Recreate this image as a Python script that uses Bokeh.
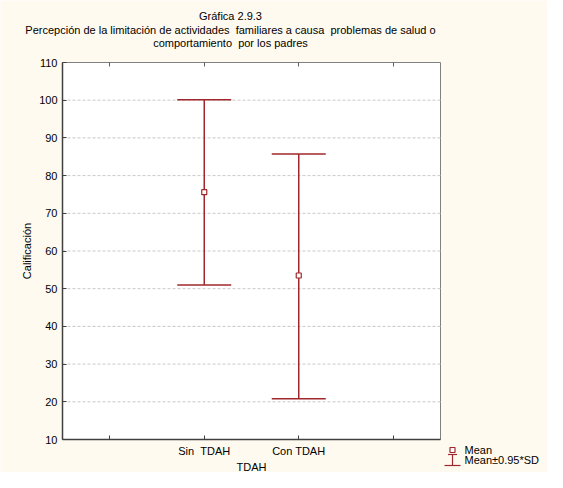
from bokeh.plotting import figure
from bokeh.models import (Range1d, FixedTicker, Whisker, TeeHead, ColumnDataSource, Label,
                          LinearAxis)
from bokeh.embed import file_html
from bokeh.resources import INLINE

# ---- data ----
categories = ["Sin  TDAH", "Con TDAH"]
means = [75.6, 53.5]
lower = [51.0, 20.8]
upper = [100.1, 85.7]
y_ticks = [10, 20, 30, 40, 50, 60, 70, 80, 90, 100, 110]
title_lines = ["Gráfica 2.9.3",
               "Percepción de la limitación de actividades  familiares a causa  problemas de salud o",
               "comportamiento  por los padres"]
x_label = "TDAH"
y_label = "Calificación"
legend_labels = ["Mean", "Mean±0.95*SD"]


def keep_spaces(s):
    return s.replace("  ", " \u00a0")


RED = "#a0282d"
FONT = "Liberation Sans"
BG = "#fffaf0"

# ---- layout (pixels of the canvas) ----
FIG_W, FIG_H = 547, 472
PA_L, PA_R, PA_T, PA_B = 62, 440, 62, 439
X0, X1 = -0.5, len(categories) + 1.5
Y0, Y1 = y_ticks[0], y_ticks[-1]
kx = (PA_R - PA_L) / (X1 - X0)
ky = (PA_B - PA_T) / (Y1 - Y0)


def sx(px):
    return X0 + (px - PA_L) / kx


def sy(py):
    return Y1 - (py - PA_T) / ky


xpos = [i + 1 for i in range(len(categories))]
xticks = [0] + xpos + [len(categories) + 1]

p = figure(width=FIG_W, height=FIG_H,
           x_range=Range1d(sx(0), sx(FIG_W)), y_range=Range1d(sy(FIG_H), sy(0)),
           output_backend="svg", toolbar_location=None, title=None,
           min_border=0, min_border_left=0, min_border_right=0,
           min_border_top=0, min_border_bottom=0)
p.border_fill_color = BG
p.background_fill_color = BG
p.outline_line_color = None
p.xgrid.visible = False
p.ygrid.visible = False

# plot area
p.quad(left=[X0], right=[X1], bottom=[Y0], top=[Y1], fill_color="white",
       line_color="#808080", line_width=1)
# horizontal dashed grid
gt = y_ticks[1:-1]
p.segment(x0=[X0] * len(gt), x1=[X1] * len(gt), y0=gt, y1=gt,
          line_color="#c8c8c8", line_dash="3 2", line_width=1)

# axes
xa = p.xaxis[0]
xa.fixed_location = Y0
xa.bounds = (X0, X1)
xa.ticker = FixedTicker(ticks=xticks)
ov = {xticks[0]: " ", xticks[-1]: " "}
for xp, c in zip(xpos, categories):
    ov[xp] = keep_spaces(c)
xa.major_label_overrides = ov
xa.axis_label = x_label
ya = p.yaxis[0]
ya.fixed_location = X0
ya.bounds = (Y0, Y1)
ya.ticker = FixedTicker(ticks=y_ticks)
ya.axis_label = y_label
for ax in (xa, ya):
    ax.axis_line_color = "#404040"
    ax.axis_line_width = 1.5
    ax.major_tick_in = 4
    ax.major_tick_out = 0
    ax.major_tick_line_color = "#404040"
    ax.minor_tick_line_color = None
    ax.major_label_text_font = FONT
    ax.major_label_text_font_size = "11px"
    ax.major_label_text_color = "black"
    ax.axis_label_text_font = FONT
    ax.axis_label_text_font_size = "11px"
    ax.axis_label_text_font_style = "normal"
    ax.axis_label_text_color = "black"
xa.major_label_standoff = 5
xa.axis_label_standoff = 1
ya.major_label_standoff = 5
ya.axis_label_standoff = 3

top = LinearAxis(ticker=FixedTicker(ticks=xticks), fixed_location=Y1, bounds=(X0, X1),
                 major_label_text_color=None, major_label_text_font_size="1px",
                 major_tick_in=4, major_tick_out=0, major_tick_line_color="#606060",
                 minor_tick_line_color=None, axis_line_color=None)
p.add_layout(top, "above")

# error bars and means
src = ColumnDataSource(dict(x=xpos, mean=means, lower=lower, upper=upper))
w = Whisker(base="x", upper="upper", lower="lower", source=src, dimension="height",
            line_color=RED, line_width=1.5, level="annotation",
            upper_head=TeeHead(size=54, line_color=RED, line_width=1.5),
            lower_head=TeeHead(size=54, line_color=RED, line_width=1.5))
p.add_layout(w)
mr = p.scatter("x", "mean", source=src, marker="square", size=5, fill_color="white",
               line_color=RED, line_width=1.2)
mr.level = "overlay"

# title
for txt, py in zip(title_lines, [15, 29, 42]):
    p.add_layout(Label(x=sx(230), y=sy(py), text=keep_spaces(txt), text_align="center",
                       text_baseline="middle", text_font=FONT, text_font_size="11px",
                       text_color="black"))

# legend
p.scatter(x=[sx(452)], y=[sy(449.5)], marker="square", size=5, fill_color="white",
          line_color=RED, line_width=1.2)
lsrc = ColumnDataSource(dict(x=[sx(452)], lo=[sy(465)], hi=[sy(454)]))
p.add_layout(Whisker(base="x", upper="hi", lower="lo", source=lsrc, dimension="height",
                     line_color=RED, line_width=1.2, level="annotation",
                     upper_head=TeeHead(size=9, line_color=RED, line_width=1.2),
                     lower_head=TeeHead(size=16, line_color=RED, line_width=1.2)))
for txt, py in zip(legend_labels, [449, 459]):
    p.add_layout(Label(x=sx(464), y=sy(py), text=txt, text_align="left", text_baseline="middle",
                       text_font=FONT, text_font_size="11px", text_color="black"))

open("out.html", "w").write(file_html(p, INLINE))
